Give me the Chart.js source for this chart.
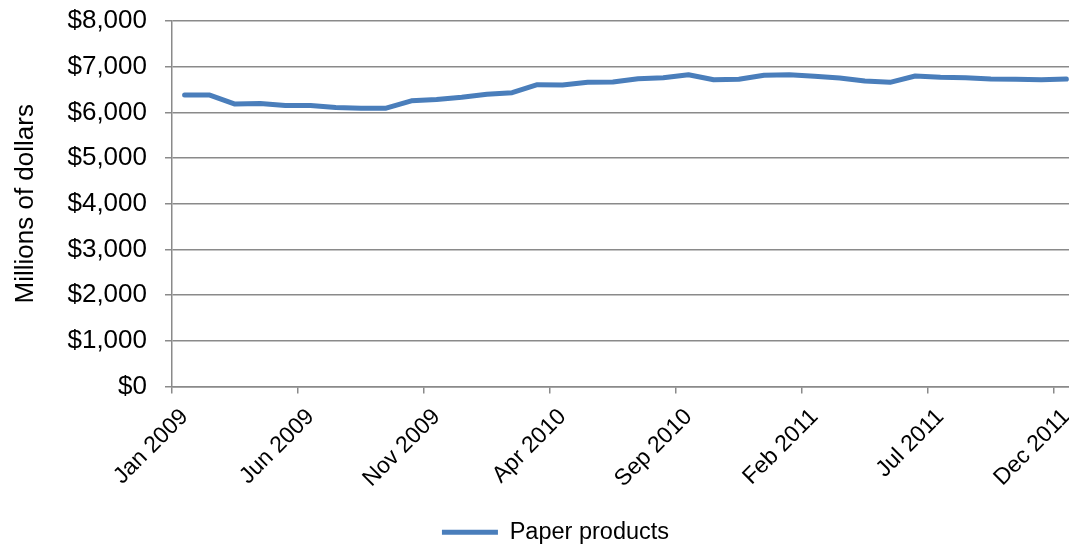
<!DOCTYPE html>
<html>
<head>
<meta charset="utf-8">
<script src="https://cdn.jsdelivr.net/npm/chart.js@4/dist/chart.umd.min.js"></script>
<style>
    html, body { margin: 0; padding: 0; background: #fff; overflow: hidden; }
    #janela { width: 1069px; height: 544px; overflow: hidden; position: relative; }
    #wrap { width: 1082px; height: 544px; position: absolute; left: 0; top: 0; }
</style>
</head>
<body>
<div id="janela"><div id="wrap"><canvas id="graficoPapel"></canvas></div></div>
<script>
// meses de jan/2009 a dez/2011
const meses = [
    'Jan 2009', 'Feb 2009', 'Mar 2009', 'Apr 2009', 'May 2009', 'Jun 2009',
    'Jul 2009', 'Aug 2009', 'Sep 2009', 'Oct 2009', 'Nov 2009', 'Dec 2009',
    'Jan 2010', 'Feb 2010', 'Mar 2010', 'Apr 2010', 'May 2010', 'Jun 2010',
    'Jul 2010', 'Aug 2010', 'Sep 2010', 'Oct 2010', 'Nov 2010', 'Dec 2010',
    'Jan 2011', 'Feb 2011', 'Mar 2011', 'Apr 2011', 'May 2011', 'Jun 2011',
    'Jul 2011', 'Aug 2011', 'Sep 2011', 'Oct 2011', 'Nov 2011', 'Dec 2011'
];

const papel = [
    6378, 6378, 6181, 6196, 6152, 6152, 6108, 6093, 6093, 6253, 6280, 6330,
    6395, 6430, 6605, 6599, 6657, 6664, 6737, 6759, 6825, 6715, 6724, 6811,
    6825, 6789, 6752, 6686, 6657, 6796, 6767, 6759, 6730, 6724, 6715, 6730
];

const ticksY = [0, 1000, 2000, 3000, 4000, 5000, 6000, 7000, 8000];

const cinza = '#8a8a8a';
const fonte = 'Liberation Sans, Arial, sans-serif';

// empurra a legenda um pouco para a direita, como no original
const deslocaLegenda = {
    id: 'deslocaLegenda',
    afterLayout: chart => { chart.legend.left += 32; }
};

const ctx = document.getElementById('graficoPapel').getContext('2d');

new Chart(ctx, {
    type: 'line',
    data: {
        labels: meses,
        datasets: [{
            label: 'Paper products',
            data: papel,
            borderColor: '#4a7ebb',
            backgroundColor: '#4a7ebb',
            borderWidth: 5,
            borderCapStyle: 'round',
            borderJoinStyle: 'round',
            pointRadius: 0,
            tension: 0,
            fill: false
        }]
    },
    plugins: [deslocaLegenda],
    options: {
        responsive: true,
        maintainAspectRatio: false,
        animation: false,
        layout: { padding: { top: 21, right: 3, left: 0, bottom: -10 } },
        plugins: {
            tooltip: { enabled: false },
            legend: {
                position: 'bottom',
                labels: {
                    color: '#000',
                    font: { family: fonte, size: 23.5 },
                    usePointStyle: true,
                    pointStyle: 'line',
                    pointStyleWidth: 56,
                    padding: 0
                }
            }
        },
        scales: {
            x: {
                offset: true,
                afterFit: s => { s.height = 134; s.paddingRight = 0; s.paddingLeft = 0; },
                grid: {
                    offset: true,
                    drawOnChartArea: false,
                    tickLength: 7,
                    lineWidth: 1.5,
                    color: c => (c.index % 5 === 0 ? cinza : 'rgba(0,0,0,0)')
                },
                border: { color: cinza, width: 1.5 },
                ticks: {
                    autoSkip: false,
                    minRotation: 45,
                    maxRotation: 45,
                    padding: 10,
                    color: '#000',
                    font: { family: fonte, size: 23 },
                    callback: (v, i) => (i % 5 === 0 ? meses[i] : '')
                }
            },
            y: {
                min: 0,
                max: 8000,
                afterFit: s => { s.width = 172; s.paddingTop = 0; s.paddingBottom = 0; },
                afterBuildTicks: s => { s.ticks = ticksY.map(v => ({ value: v })); },
                grid: {
                    color: cinza,
                    lineWidth: 1.5,
                    tickLength: 7
                },
                border: { color: cinza, width: 1.5 },
                ticks: {
                    color: '#000',
                    padding: 18,
                    font: { family: fonte, size: 26 },
                    callback: v => `$${v.toLocaleString('en-US')}`
                },
                title: {
                    display: true,
                    text: 'Millions of dollars',
                    color: '#000',
                    padding: { top: 10, bottom: 0 },
                    font: { family: fonte, size: 26 }
                }
            }
        }
    }
});
</script>
</body>
</html>
